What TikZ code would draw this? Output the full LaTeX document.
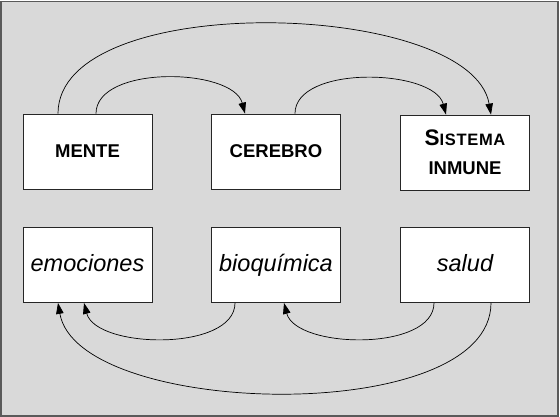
\documentclass[tikz,border=0pt]{standalone}
\usepackage{fontspec}
\setmainfont{Liberation Sans}
\usetikzlibrary{arrows.meta}
\definecolor{panelgray}{HTML}{D9D9D9}
\definecolor{framegray}{HTML}{5A5A5A}
\begin{document}
\begin{tikzpicture}[x=1pt,y=1pt]
  \useasboundingbox (0,0) rectangle (560,417);
  \draw[framegray,line width=1.6pt,fill=panelgray] (1,1) rectangle (558,415.5);
  \begin{scope}[every node/.style={draw=black!85,fill=white,line width=0.8pt,minimum width=129pt,minimum height=75pt,inner sep=0pt,align=center}]
  \begin{scope}[every node/.append style={font=\fontsize{18.5}{28.7}\selectfont\bfseries}]
  \node (mente) at (87.5,265.5) {MENTE};
  \node (cerebro) at (276,265.5) {CEREBRO};
  \node (sistema) at (465,264.5) {{\fontsize{22.5}{28.7}\selectfont S}{\fontsize{16.5}{28.7}\selectfont\addfontfeature{LetterSpace=4}ISTEMA}\\INMUNE};
  \end{scope}
  \begin{scope}[every node/.append style={font=\fontsize{23.5}{28}\selectfont\itshape,text height=18pt,text depth=4pt}]
  \node (emociones) at (87.5,152) {emociones};
  \node (bioquimica) at (276,152) {bioquímica};
  \node (salud) at (465,152) {salud};
  \end{scope}
  \end{scope}
  \begin{scope}[every path/.style={draw=black,line width=0.7pt,-{Triangle[length=11pt,width=7.5pt]}}]
  \path ([xshift=8.5pt]mente.north) .. controls +(0,49) and +(-12,46) .. ([xshift=-31pt]cerebro.north);
  \path ([xshift=19pt]cerebro.north) .. controls +(0,49) and +(-12,46) .. ([xshift=-19pt]sistema.north);
  \path ([xshift=-29.5pt]mente.north) .. controls +(0,125) and +(-20,115) .. ([xshift=26pt]sistema.north);
  \path ([xshift=-41pt]bioquimica.south) .. controls +(0,-49) and +(12,-46) .. ([xshift=-3.5pt]emociones.south);
  \path ([xshift=-31pt]salud.south) .. controls +(0,-49) and +(12,-46) .. ([xshift=8pt]bioquimica.south);
  \path ([xshift=26pt]salud.south) .. controls +(0,-125) and +(20,-115) .. ([xshift=-29.5pt]emociones.south);
  \end{scope}
\end{tikzpicture}
\end{document}
